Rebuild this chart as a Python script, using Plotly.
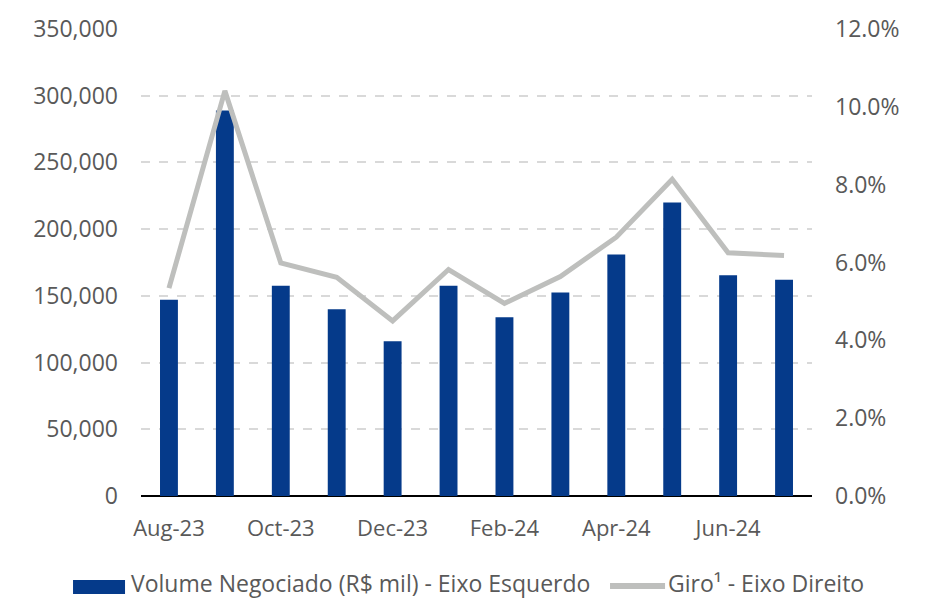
import plotly.graph_objects as go

months = ["Aug-23", "Sep-23", "Oct-23", "Nov-23", "Dec-23", "Jan-24",
          "Feb-24", "Mar-24", "Apr-24", "May-24", "Jun-24", "Jul-24"]
volume = [147000, 289000, 157500, 140000, 116000, 157500,
          134000, 152500, 181000, 220000, 165500, 162000]
giro = [0.0534, 0.1041, 0.0599, 0.0562, 0.0450, 0.0582,
        0.0495, 0.0564, 0.0665, 0.0814, 0.0625, 0.0618]
tick_labels = ["Aug-23", "Oct-23", "Dec-23", "Feb-24", "Apr-24", "Jun-24"]
series_names = ["Volume Negociado (R$ mil) - Eixo Esquerdo", "Giro¹ - Eixo Direito"]

FONT = "Open Sans"
TXT = "#595959"
BAR_COLOR = "#053A8A"
LINE_COLOR = "#BEBFBD"

fig = go.Figure()
fig.add_trace(go.Bar(
    x=months, y=volume, name=series_names[0],
    marker=dict(color=BAR_COLOR, line=dict(width=0)), showlegend=False,
))
fig.add_trace(go.Scatter(
    x=months, y=giro, name=series_names[1], yaxis="y2",
    mode="lines", line=dict(color=LINE_COLOR, width=5), showlegend=False,
))

# custom legend (symbols + real text) below the plot
fig.add_shape(type="rect", xref="paper", yref="paper",
              x0=-0.1013, x1=-0.0238, y0=-0.2099, y1=-0.1799,
              fillcolor=BAR_COLOR, line=dict(width=0))
fig.add_annotation(xref="paper", yref="paper", x=-0.0164, y=-0.1870,
                   xanchor="left", yanchor="middle", showarrow=False, borderpad=0,
                   text=series_names[0], font=dict(size=23, color=TXT, family=FONT))
fig.add_shape(type="line", xref="paper", yref="paper",
              x0=0.699, x1=0.781, y0=-0.1927, y1=-0.1927,
              line=dict(color=LINE_COLOR, width=6))
fig.add_annotation(xref="paper", yref="paper", x=0.784, y=-0.1870,
                   xanchor="left", yanchor="middle", showarrow=False, borderpad=0,
                   text=series_names[1], font=dict(size=23, color=TXT, family=FONT))

fig.update_layout(
    width=920, height=592,
    margin=dict(l=133, r=116, t=21, b=104, autoexpand=False),
    paper_bgcolor="white", plot_bgcolor="white",
    font=dict(family=FONT, size=22, color=TXT),
    bargap=0.68,
    showlegend=False,
    xaxis=dict(type="category", tickmode="array", tickvals=tick_labels, ticktext=tick_labels,
               showgrid=False, showline=False, zeroline=False, ticks="", automargin=False,
               ticklabelstandoff=17,
               tickfont=dict(size=22, color=TXT)),
    yaxis=dict(range=[0, 350000], dtick=50000, tickformat=",.0f",
               showgrid=True, gridcolor="#D9D9D9", griddash="dash", gridwidth=1.5,
               zeroline=True, zerolinecolor="#000000", zerolinewidth=1.5,
               showline=False, ticks="", ticklabelstandoff=22, automargin=False,
               tickfont=dict(size=23, color=TXT)),
    yaxis2=dict(range=[0, 0.12], dtick=0.02, tickformat=".1%", overlaying="y", side="right",
                showgrid=False, zeroline=False, showline=False, ticks="", ticklabelstandoff=22,
                automargin=False,
                tickfont=dict(size=23, color=TXT)),
)

fig.write_html("out.html")
